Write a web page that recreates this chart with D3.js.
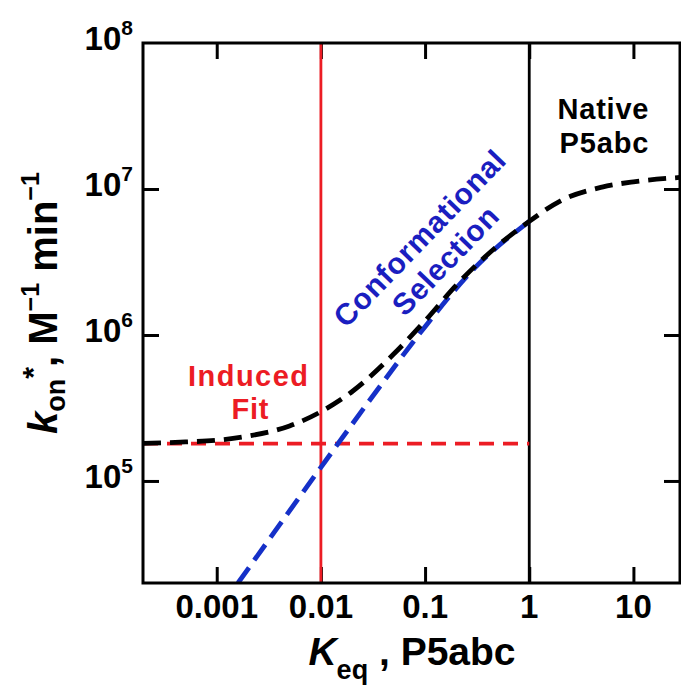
<!DOCTYPE html>
<html>
<head>
<meta charset="utf-8">
<script src="https://cdn.jsdelivr.net/npm/d3@7"></script>
<style>
  html, body { margin: 0; padding: 0; background: #fff; }
  svg { display: block; }
  text { font-family: "Liberation Sans", Arial, Helvetica, sans-serif; font-weight: bold; }
</style>
</head>
<body>
<svg id="chart" width="681" height="688"></svg>
<script>
// ---- data ----
const xDomain = [0.000196, 28];
const yDomain = [2e4, 1e8];
const xTicks = [0.001, 0.01, 0.1, 1, 10];
const xTickLabels = ["0.001", "0.01", "0.1", "1", "10"];
const yTicks = [1e5, 1e6, 1e7, 1e8];
const yTickExps = ["5", "6", "7", "8"];

// observed k_on* (black dashed)
const keqObserved = [0.000196, 0.0005, 0.001, 0.002, 0.005, 0.01, 0.02, 0.05, 0.1, 0.2, 0.5, 1, 2, 5, 10, 28];
const konObserved = [1.81e5, 1.85e5, 1.9e5, 2.03e5, 2.38e5, 2.98e5, 4.1e5, 7.4e5, 1.25e6, 2.2e6, 4.1e6, 6.0e6, 8.3e6, 1.03e7, 1.12e7, 1.2e7];

// conformational selection limit (blue dashed)
const keqCS = [0.0016, 0.003, 0.01, 0.03, 0.1, 0.3, 1];
const konCS = [2.0e4, 3.75e4, 1.24e5, 3.64e5, 1.14e6, 2.88e6, 6.0e6];

// induced fit limit (red dashed)
const keqIF = [0.000196, 1];
const konIF = [1.8e5, 1.8e5];

// reference verticals
const keqInducedLine = 0.01;
const keqNativeLine = 1;

// ---- drawing ----
(function () {
const svg = d3.select("#chart");
const pL = 143, pR = 680, pT = 43, pB = 583;
const x = d3.scaleLog().domain(xDomain).range([pL, pR]);
const y = d3.scaleLog().domain(yDomain).range([pB, pT]);

const RED = "#ec1c24", BLUE = "#1530c8", BLUE_TXT = "#1a1ec0";

svg.append("defs").append("clipPath").attr("id", "clip")
  .append("rect").attr("x", pL).attr("y", pT).attr("width", pR - pL).attr("height", pB - pT);

const tickLen = 16;
function styleAxis(g) {
  g.select(".domain").remove();
  g.selectAll(".tick line").attr("stroke", "#000").attr("stroke-width", 3);
  g.selectAll(".tick text").remove();
}
svg.append("g").attr("transform", `translate(0,${pB})`)
  .call(d3.axisBottom(x).tickValues(xTicks).tickSizeInner(-tickLen).tickSizeOuter(0).tickFormat(""))
  .call(styleAxis);
svg.append("g").attr("transform", `translate(0,${pT})`)
  .call(d3.axisTop(x).tickValues(xTicks).tickSizeInner(-tickLen).tickSizeOuter(0).tickFormat(""))
  .call(styleAxis);
svg.append("g").attr("transform", `translate(${pL},0)`)
  .call(d3.axisLeft(y).tickValues(yTicks.slice(0, 3)).tickSizeInner(-tickLen).tickSizeOuter(0).tickFormat(""))
  .call(styleAxis);
svg.append("g").attr("transform", `translate(${pR},0)`)
  .call(d3.axisRight(y).tickValues(yTicks.slice(0, 3)).tickSizeInner(-tickLen).tickSizeOuter(0).tickFormat(""))
  .call(styleAxis);

const plot = svg.append("g").attr("clip-path", "url(#clip)");

plot.append("line")
  .attr("x1", x(keqInducedLine)).attr("x2", x(keqInducedLine))
  .attr("y1", y(yDomain[0])).attr("y2", y(yDomain[1]))
  .attr("stroke", RED).attr("stroke-width", 2.8);
plot.append("line")
  .attr("x1", x(keqNativeLine)).attr("x2", x(keqNativeLine))
  .attr("y1", y(yDomain[0])).attr("y2", y(yDomain[1]))
  .attr("stroke", "#000").attr("stroke-width", 2.8);

const line = d3.line().x(d => x(d[0])).y(d => y(d[1])).curve(d3.curveMonotoneX);

plot.append("path")
  .datum(d3.zip(keqIF, konIF))
  .attr("d", line).attr("fill", "none")
  .attr("stroke", RED).attr("stroke-width", 3.8).attr("stroke-dasharray", "15,9");

plot.append("path")
  .datum(d3.zip(keqCS, konCS))
  .attr("d", line).attr("fill", "none")
  .attr("stroke", BLUE).attr("stroke-width", 4.8).attr("stroke-dasharray", "19,9");

plot.append("path")
  .datum(d3.zip(keqObserved, konObserved))
  .attr("d", line).attr("fill", "none")
  .attr("stroke", "#000").attr("stroke-width", 4.8).attr("stroke-dasharray", "18,9");

svg.append("rect")
  .attr("x", pL).attr("y", pT).attr("width", pR - pL).attr("height", pB - pT)
  .attr("fill", "none").attr("stroke", "#000").attr("stroke-width", 3);

svg.append("g").selectAll("text").data(xTicks).join("text")
  .attr("x", d => x(d)).attr("y", 618)
  .attr("text-anchor", "middle").attr("font-size", 33)
  .text((d, i) => xTickLabels[i]);

const yl = svg.append("g").selectAll("text").data(yTicks).join("text")
  .attr("x", 133).attr("y", d => y(d) + 7)
  .attr("text-anchor", "end").attr("font-size", 33);
yl.append("tspan").text("10");
yl.append("tspan").attr("font-size", 21).attr("dy", -15).text((d, i) => yTickExps[i]);

const xl = svg.append("text").attr("x", 412).attr("y", 665).attr("text-anchor", "middle").attr("font-size", 39);
xl.append("tspan").attr("font-style", "italic").text("K");
xl.append("tspan").attr("font-size", 27).attr("dy", 14).text("eq");
xl.append("tspan").attr("dy", -14).text(" , P5abc");

const ylab = svg.append("text").attr("transform", "translate(57,303) rotate(-90)")
  .attr("text-anchor", "middle").attr("font-size", 40);
ylab.append("tspan").attr("font-style", "italic").text("k");
ylab.append("tspan").attr("font-size", 27).attr("dy", 8).text("on");
ylab.append("tspan").attr("font-size", 30).attr("dy", -22).text("*");
ylab.append("tspan").attr("dy", 14).text(", M");
ylab.append("tspan").attr("font-size", 25).attr("dy", -18).text("\u22121");
ylab.append("tspan").attr("dy", 18).text(" min");
ylab.append("tspan").attr("font-size", 25).attr("dy", -18).text("\u22121");

function label(xc, yb, str, color, len) {
  svg.append("text").attr("x", xc).attr("y", yb).attr("text-anchor", "middle")
    .attr("font-size", 29).attr("fill", color)
    .attr("textLength", len).attr("lengthAdjust", "spacing")
    .text(str);
}
label(248, 386, "Induced", RED, 120);
label(250, 419, "Fit", RED, 37);
label(603, 119, "Native", "#000", 91);
label(604, 153, "P5abc", "#000", 89);

const cs = svg.append("g").attr("transform", "translate(419,238) rotate(-46)");
cs.append("text").attr("x", 0).attr("y", 11).attr("text-anchor", "middle")
  .attr("font-size", 30).attr("fill", BLUE_TXT)
  .attr("textLength", 232).attr("lengthAdjust", "spacing").text("Conformational");
cs.append("text").attr("x", 2).attr("y", 45).attr("text-anchor", "middle")
  .attr("font-size", 30).attr("fill", BLUE_TXT)
  .attr("textLength", 138).attr("lengthAdjust", "spacing").text("Selection");
})();
</script>
</body>
</html>
